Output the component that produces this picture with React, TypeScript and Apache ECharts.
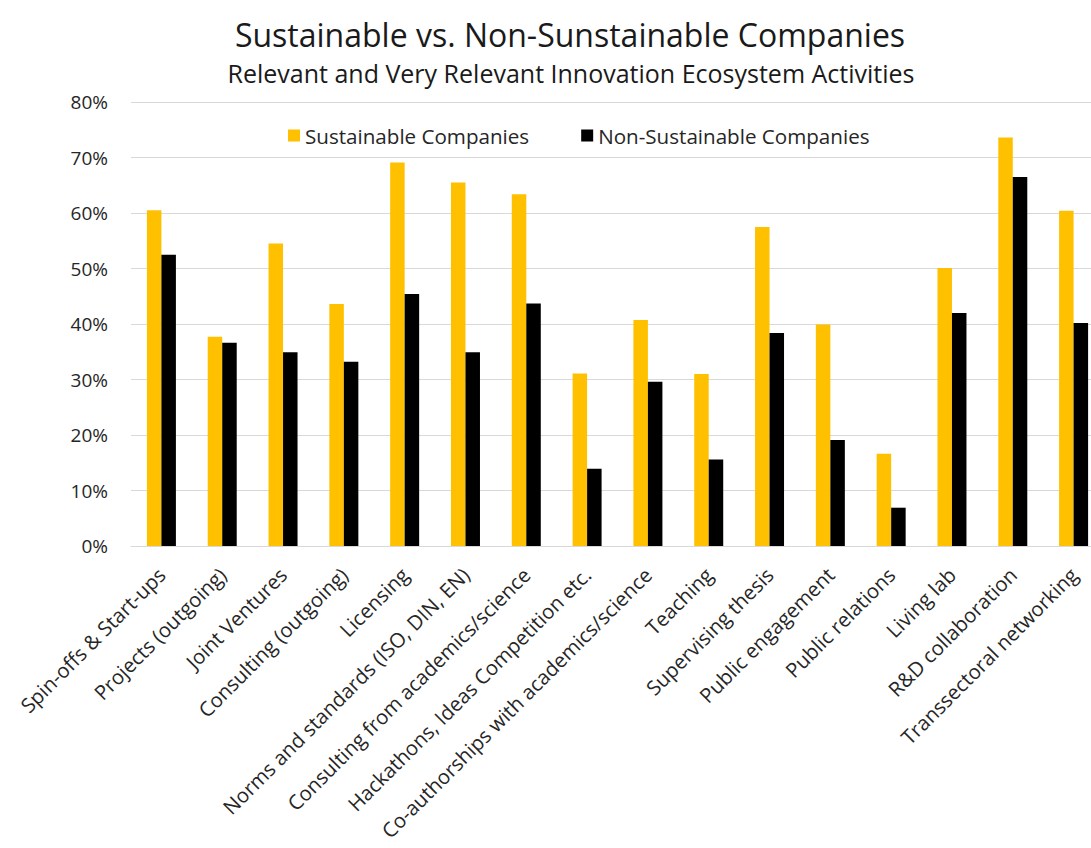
import React, { useEffect, useRef } from "react";
import * as echarts from "echarts";

const categories = [
  "Spin-offs & Start-ups",
  "Projects (outgoing)",
  "Joint Ventures",
  "Consulting (outgoing)",
  "Licensing",
  "Norms and standards (ISO, DIN, EN)",
  "Consulting from academics/science",
  "Hackathons, Ideas Competition etc.",
  "Co-authorships with academics/science",
  "Teaching",
  "Supervising thesis",
  "Public engagement",
  "Public relations",
  "Living lab",
  "R&D collaboration",
  "Transsectoral networking",
];

const sustainable = [60.5, 37.7, 54.5, 43.6, 69.1, 65.5, 63.4, 31.1, 40.7, 31.0, 57.5, 39.9, 16.6, 50.1, 73.6, 60.4];
const nonSustainable = [52.5, 36.6, 34.9, 33.2, 45.4, 34.9, 43.7, 13.9, 29.6, 15.6, 38.4, 19.1, 6.9, 42.0, 66.5, 40.2];

const seriesNames = ["Sustainable Companies", "Non-Sustainable Companies"];
const titleText = "Sustainable vs. Non-Sunstainable Companies";
const subtitleText = "Relevant and Very Relevant Innovation Ecosystem Activities";

const FONT = "'Open Sans', 'Noto Sans', sans-serif";

export default function App() {
  const ref = useRef<HTMLDivElement>(null);
  useEffect(() => {
    if (!ref.current) return;
    const chart = echarts.init(ref.current, undefined, { renderer: "svg" });
    chart.setOption({
      animation: false,
      backgroundColor: "#ffffff",
      textStyle: { fontFamily: FONT },
      graphic: [
        {
          type: "text",
          x: 570,
          y: 34,
          style: {
            text: titleText,
            textAlign: "center",
            textVerticalAlign: "middle",
            font: `32px ${FONT}`,
            fill: "#1a1a1a",
          },
        },
        {
          type: "text",
          x: 571,
          y: 73,
          style: {
            text: subtitleText,
            textAlign: "center",
            textVerticalAlign: "middle",
            font: `25px ${FONT}`,
            fill: "#1a1a1a",
          },
        },
      ],
      legend: {
        left: 283,
        top: 120,
        itemWidth: 12,
        itemHeight: 12,
        itemGap: 52,
        icon: "rect",
        textStyle: { fontSize: 20.6, color: "#262626", fontFamily: FONT },
        data: seriesNames,
      },
      grid: {
        left: 131,
        right: -13,
        top: 102,
        bottom: 302,
        containLabel: false,
        outerBoundsMode: "none",
      },
      xAxis: {
        type: "category",
        data: categories,
        axisLine: { show: true, lineStyle: { color: "#d9d9d9" } },
        axisTick: { show: false },
        axisLabel: {
          interval: 0,
          rotate: 45,
          margin: 25,
          fontSize: 20.3,
          color: "#262626",
          fontFamily: FONT,
        },
      },
      yAxis: {
        type: "value",
        min: 0,
        max: 80,
        interval: 10,
        axisLine: { show: false },
        axisTick: { show: false },
        splitLine: { lineStyle: { color: "#d9d9d9", width: 1 } },
        axisLabel: {
          formatter: "{value}%",
          margin: 23,
          fontSize: 19,
          color: "#262626",
          fontFamily: FONT,
        },
      },
      series: [
        {
          name: seriesNames[0],
          type: "bar",
          data: sustainable,
          barWidth: 14.5,
          barGap: "0%",
          itemStyle: { color: "#FFC000" },
        },
        {
          name: seriesNames[1],
          type: "bar",
          data: nonSustainable,
          barWidth: 14.5,
          itemStyle: { color: "#000000" },
        },
      ],
    });
    return () => chart.dispose();
  }, []);
  return (
    <div
      ref={ref}
      style={{ position: "fixed", left: 0, top: 0, width: 1091, height: 848 }}
    />
  );
}
